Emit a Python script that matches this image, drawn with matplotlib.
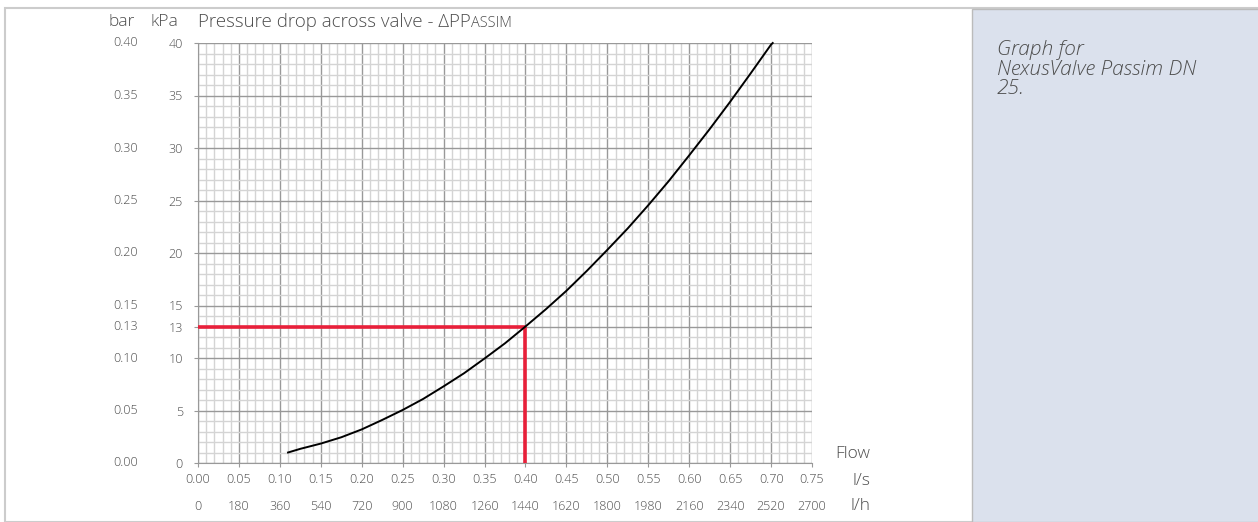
import matplotlib.pyplot as plt
from matplotlib.patches import Rectangle
from matplotlib.ticker import MultipleLocator
from matplotlib.transforms import blended_transform_factory

plt.rcParams['font.family'] = ['Open Sans', 'DejaVu Sans']
plt.rcParams['font.weight'] = 'light'

# curve: flow (l/s) vs pressure drop (kPa)
flow = [0.11, 0.125, 0.15, 0.175, 0.20, 0.225, 0.25, 0.275, 0.30, 0.325, 0.35, 0.375, 0.40,
        0.425, 0.45, 0.475, 0.50, 0.525, 0.55, 0.575, 0.60, 0.625, 0.65, 0.675, 0.70, 0.702]
dp_kpa = [1.0, 1.35, 1.85, 2.45, 3.2, 4.1, 5.05, 6.1, 7.3, 8.55, 9.95, 11.4, 13.0,
          14.65, 16.4, 18.3, 20.3, 22.35, 24.55, 26.85, 29.3, 31.8, 34.4, 37.1, 39.85, 40.0]

# operating point
op_flow = 0.40
op_dp = 13

# tick labels
x_ls = [0.00, 0.05, 0.10, 0.15, 0.20, 0.25, 0.30, 0.35, 0.40, 0.45, 0.50, 0.55, 0.60, 0.65, 0.70, 0.75]
x_lh = ['0', '180', '360', '540', '720', '900', '1080', '1260', '1440', '1620', '1800',
        '1980', '2160', '2340', '2520', '2700']
y_kpa = [0, 5, 10, 13, 15, 20, 25, 30, 35, 40]
y_bar = ['0.00', '0.05', '0.10', '0.13', '0.15', '0.20', '0.25', '0.30', '0.35', '0.40']

grey = '#4d4d4d'
W, H = 1258, 522
AW, AH = 812 - 198, 463 - 43

fig = plt.figure(figsize=(12.58, 5.22), dpi=100)

# outer frame and right info panel
fig.patches.append(Rectangle((5 / W, 0), 1, 1 - 8 / H, transform=fig.transFigure,
                             fill=False, edgecolor='#cccccc', lw=1.5))
fig.patches.append(Rectangle((972 / W, 0), 1, 1 - 9 / H, transform=fig.transFigure,
                             facecolor='#dbe1ed', edgecolor='#bbbbbb', lw=1))
fig.text(997 / W, 1 - 40 / H, 'Graph for\nNexusValve Passim DN\n25.', style='italic',
         fontsize=15, color=grey, va='top', ha='left', linespacing=0.97)

ax = fig.add_axes([198 / W, 1 - 463 / H, AW / W, AH / H])
ax.set_xlim(0, 0.75)
ax.set_ylim(0, 40)

ax.xaxis.set_major_locator(MultipleLocator(0.05))
ax.xaxis.set_minor_locator(MultipleLocator(0.01))
ax.yaxis.set_major_locator(MultipleLocator(5))
ax.yaxis.set_minor_locator(MultipleLocator(1))
ax.grid(which='minor', color='#d4d4d4', lw=1.0)
ax.grid(which='major', color='#999999', lw=1.0)
ax.set_axisbelow(True)
for s in ax.spines.values():
    s.set_visible(False)
ax.spines['left'].set_visible(True)
ax.spines['bottom'].set_visible(True)
ax.spines['left'].set_color('#999999')
ax.spines['bottom'].set_color('#999999')

ax.set_xticks(x_ls)
ax.set_xticklabels(['%.2f' % v for v in x_ls])
ax.set_yticks(y_kpa)
ax.set_yticklabels([str(v) for v in y_kpa])
ax.tick_params(which='major', length=3, color='#999999', labelcolor=grey, labelsize=9, pad=4)
ax.tick_params(axis='y', pad=8)
ax.tick_params(which='minor', length=0)

# second columns / rows of labels
tx = blended_transform_factory(ax.transData, ax.transAxes)
for v, lab in zip(x_ls, x_lh):
    ax.text(v, -43 / AH, lab, transform=tx, ha='center', va='center', fontsize=9, color=grey)
ty = blended_transform_factory(ax.transAxes, ax.transData)
for v, lab in zip(y_kpa, y_bar):
    ax.text(-60 / AW, v, lab, transform=ty, ha='right', va='center', fontsize=9, color=grey)

# axis captions
ax.text(-76 / AW, 1 + 21 / AH, 'bar', transform=ax.transAxes, ha='center', va='center',
        fontsize=12.5, color=grey)
ax.text(-34 / AW, 1 + 21 / AH, 'kPa', transform=ax.transAxes, ha='center', va='center',
        fontsize=12.5, color=grey)
t1 = ax.text(0, 1 + 21 / AH, 'Pressure drop across valve - ΔPP', transform=ax.transAxes,
             ha='left', va='center', fontsize=13.5, color=grey)
ax.annotate('ASSIM', xy=(1, 0), xycoords=t1, xytext=(0.5, 3.2), textcoords='offset points',
            ha='left', va='baseline', fontsize=10.5, color=grey)
ax.text(1 + 58 / AW, 9 / AH, 'Flow', transform=ax.transAxes, ha='right', va='center',
        fontsize=12.5, color=grey)
ax.text(1 + 58 / AW, -18 / AH, 'l/s', transform=ax.transAxes, ha='right', va='center',
        fontsize=12.5, color=grey)
ax.text(1 + 58 / AW, -43 / AH, 'l/h', transform=ax.transAxes, ha='right', va='center',
        fontsize=12.5, color=grey)

# curve and operating point
ax.plot(flow, dp_kpa, color='black', lw=1.4, zorder=4, clip_on=False)
ax.plot([0, op_flow], [op_dp, op_dp], color='#e8203a', lw=2.6, zorder=3, solid_capstyle='butt')
ax.plot([op_flow, op_flow], [0, op_dp], color='#e8203a', lw=2.6, zorder=3, solid_capstyle='butt')

fig.savefig('out.png', dpi=100)
